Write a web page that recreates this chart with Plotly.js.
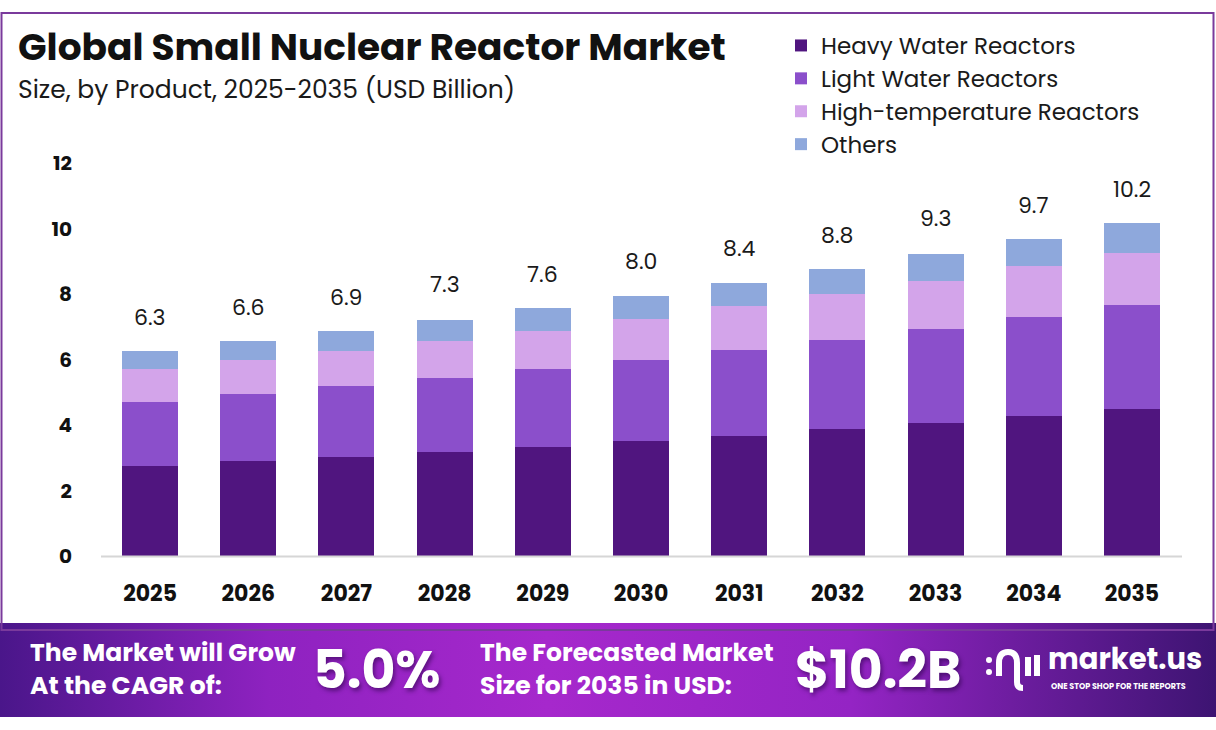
<!DOCTYPE html>
<html>
<head>
<meta charset="utf-8">
<script src="https://cdn.plot.ly/plotly-3.0.1.min.js"></script>
<style>
  html, body { margin: 0; padding: 0; background: #ffffff; }
  #chart { width: 1216px; height: 730px; }
</style>
</head>
<body>
<div id="chart"></div>
<script>
// ---- data ----
const years = ["2025","2026","2027","2028","2029","2030","2031","2032","2033","2034","2035"];
const heavyWater = [2.76, 2.90, 3.03, 3.18, 3.34, 3.52, 3.66, 3.89, 4.07, 4.28, 4.50];
const lightWater = [1.93, 2.05, 2.16, 2.26, 2.36, 2.46, 2.63, 2.71, 2.86, 3.03, 3.16];
const highTemp   = [1.02, 1.03, 1.07, 1.12, 1.18, 1.26, 1.33, 1.40, 1.47, 1.53, 1.58];
const others     = [0.55, 0.58, 0.61, 0.65, 0.68, 0.70, 0.71, 0.76, 0.81, 0.84, 0.94];
const totals     = [6.3, 6.6, 6.9, 7.3, 7.6, 8.0, 8.4, 8.8, 9.3, 9.7, 10.2];
const yTicks     = [0, 2, 4, 6, 8, 10, 12];
const seriesNames = ["Heavy Water Reactors", "Light Water Reactors", "High-temperature Reactors", "Others"];
const cagrText = "5.0%";
const forecastText = "$10.2B";

// ---- layout geometry ----
const W = 1216, H = 730;
const M = {l: 101, r: 35, t: 163, b: 174};
const PW = W - M.l - M.r, PH = H - M.t - M.b;
const px = v => (v - M.l) / PW;          // pixel x -> paper x
const py = v => (H - M.b - v) / PH;      // pixel y -> paper y

const FONT = "Poppins, Inter, 'Noto Sans', sans-serif";
const colors = ["#50157f", "#8b4fcb", "#d3a4ea", "#8ea8dc"];
const seriesValues = [heavyWater, lightWater, highTemp, others];

const traces = seriesValues.map((vals, i) => ({
  type: "bar",
  name: seriesNames[i],
  x: years,
  y: vals,
  marker: {color: colors[i], line: {width: 0}},
  legendgroup: "g" + i,
  hoverinfo: "skip"
}));

const annotations = [];
years.forEach((yr, i) => {
  annotations.push({
    x: i, y: totals[i], xref: "x", yref: "y",
    text: totals[i].toFixed(1), showarrow: false,
    yanchor: "bottom", yshift: 15,
    font: {family: FONT, size: 22, color: "#1a1a1a"}
  });
});

// titles
annotations.push({
  xref: "paper", yref: "paper", x: px(16), y: py(47), xanchor: "left", yanchor: "middle",
  text: "<b>Global Small Nuclear Reactor Market</b>", showarrow: false,
  font: {family: FONT, size: 37.5, color: "#111111"}
});
annotations.push({
  xref: "paper", yref: "paper", x: px(16), y: py(89), xanchor: "left", yanchor: "middle",
  text: "Size, by Product, 2025-2035 (USD Billion)", showarrow: false,
  font: {family: FONT, size: 25, color: "#1a1a1a"}
});

// footer texts
const white = "#ffffff";
const shadow = "2px 3px 4px rgba(40,0,70,0.55)";
annotations.push({
  xref: "paper", yref: "paper", x: px(28), y: py(669), xanchor: "left", yanchor: "middle",
  text: "<b>The Market will Grow<br>At the CAGR of:</b>", showarrow: false, align: "left",
  font: {family: FONT, size: 25, color: white}
});
annotations.push({
  xref: "paper", yref: "paper", x: px(377), y: py(669), xanchor: "center", yanchor: "middle",
  text: "<b>" + cagrText + "</b>", showarrow: false,
  font: {family: FONT, size: 52, color: white, shadow: shadow}
});
annotations.push({
  xref: "paper", yref: "paper", x: px(478), y: py(669), xanchor: "left", yanchor: "middle",
  text: "<b>The Forecasted Market<br>Size for 2035 in USD:</b>", showarrow: false, align: "left",
  font: {family: FONT, size: 25, color: white}
});
annotations.push({
  xref: "paper", yref: "paper", x: px(878), y: py(669), xanchor: "center", yanchor: "middle",
  text: "<b>" + forecastText + "</b>", showarrow: false,
  font: {family: FONT, size: 52, color: white, shadow: shadow}
});
annotations.push({
  xref: "paper", yref: "paper", x: px(1046), y: py(659), xanchor: "left", yanchor: "middle",
  text: "<b>market.us</b>", showarrow: false,
  font: {family: FONT, size: 29, color: white}
});
annotations.push({
  xref: "paper", yref: "paper", x: px(1049), y: py(686), xanchor: "left", yanchor: "middle",
  text: "<b>ONE STOP SHOP FOR THE REPORTS</b>", showarrow: false,
  font: {family: FONT, size: 8, color: white}
});

// gradient band as svg image
const svg = '<svg xmlns="http://www.w3.org/2000/svg" width="1216" height="94" preserveAspectRatio="none">' +
  '<defs><linearGradient id="g" x1="0" y1="0" x2="1" y2="0">' +
  '<stop offset="0" stop-color="#4a168a"/><stop offset="0.22" stop-color="#8e22c0"/>' +
  '<stop offset="0.45" stop-color="#a628cc"/><stop offset="0.7" stop-color="#9424c4"/>' +
  '<stop offset="1" stop-color="#3d1472"/></linearGradient></defs>' +
  '<rect x="0" y="0" width="1216" height="94" fill="url(#g)"/></svg>';
const svgUri = "data:image/svg+xml;base64," + btoa(svg);

const shapes = [
  // outer frame
  {type: "rect", xref: "paper", yref: "paper", x0: px(1.5), x1: px(1213.5), y0: py(13), y1: py(630),
   line: {color: "#7a3a9c", width: 2}, fillcolor: "rgba(0,0,0,0)", layer: "below"},
  // x-axis baseline
  {type: "line", xref: "paper", yref: "paper", x0: px(101), x1: px(1182), y0: py(556.5), y1: py(556.5),
   line: {color: "#d6d6d6", width: 2}},
  // logo icon: dots
  {type: "circle", xref: "paper", yref: "paper", x0: px(986), x1: px(992), y0: py(657), y1: py(663),
   fillcolor: white, line: {width: 0}},
  {type: "circle", xref: "paper", yref: "paper", x0: px(986), x1: px(992), y0: py(669), y1: py(675),
   fillcolor: white, line: {width: 0}},
  // logo icon: arch and tail
  {type: "path", xref: "paper", yref: "paper",
   path: "M " + px(999) + "," + py(676) + " L " + px(999) + "," + py(663) +
         " Q " + px(999) + "," + py(652) + " " + px(1008) + "," + py(652) +
         " Q " + px(1017) + "," + py(652) + " " + px(1017) + "," + py(663) +
         " L " + px(1017) + "," + py(682) +
         " Q " + px(1017) + "," + py(688) + " " + px(1023) + "," + py(688),
   line: {color: white, width: 6}, fillcolor: "rgba(0,0,0,0)"},
  {type: "line", xref: "paper", yref: "paper", x0: px(1028), x1: px(1028), y0: py(657), y1: py(676),
   line: {color: white, width: 6}},
  {type: "line", xref: "paper", yref: "paper", x0: px(1037), x1: px(1037), y0: py(655), y1: py(676),
   line: {color: white, width: 6}}
];

const layout = {
  width: W, height: H,
  margin: M,
  paper_bgcolor: "#ffffff",
  plot_bgcolor: "#ffffff",
  barmode: "stack",
  bargap: 0.43,
  font: {family: FONT, color: "#111111"},
  showlegend: true,
  legend: {
    x: px(781), y: py(24), xanchor: "left", yanchor: "top",
    xref: "paper", yref: "paper",
    traceorder: "normal",
    bgcolor: "rgba(0,0,0,0)",
    font: {family: FONT, size: 23, color: "#1a1a1a"},
    tracegroupgap: 5,
    itemclick: false
  },
  xaxis: {
    type: "category",
    categoryorder: "array", categoryarray: years,
    range: [-0.5, years.length - 0.5],
    showgrid: false, zeroline: false, showline: false,
    ticks: "",
    ticklabelstandoff: 22,
    tickfont: {family: FONT, size: 22, color: "#111111", weight: "bold"}
  },
  yaxis: {
    range: [0, 12],
    tickvals: yTicks,
    ticktext: yTicks.map(String),
    showgrid: false, zeroline: false, showline: false,
    ticks: "",
    ticklabelstandoff: 28,
    tickfont: {family: FONT, size: 20, color: "#111111", weight: "bold"}
  },
  annotations: annotations,
  shapes: shapes,
  images: [{
    source: svgUri, xref: "paper", yref: "paper",
    x: px(0), y: py(623), sizex: W / PW, sizey: 94 / PH,
    xanchor: "left", yanchor: "top", sizing: "stretch", layer: "below"
  }]
};

Plotly.newPlot("chart", traces, layout, {staticPlot: true, displayModeBar: false});
</script>
</body>
</html>
